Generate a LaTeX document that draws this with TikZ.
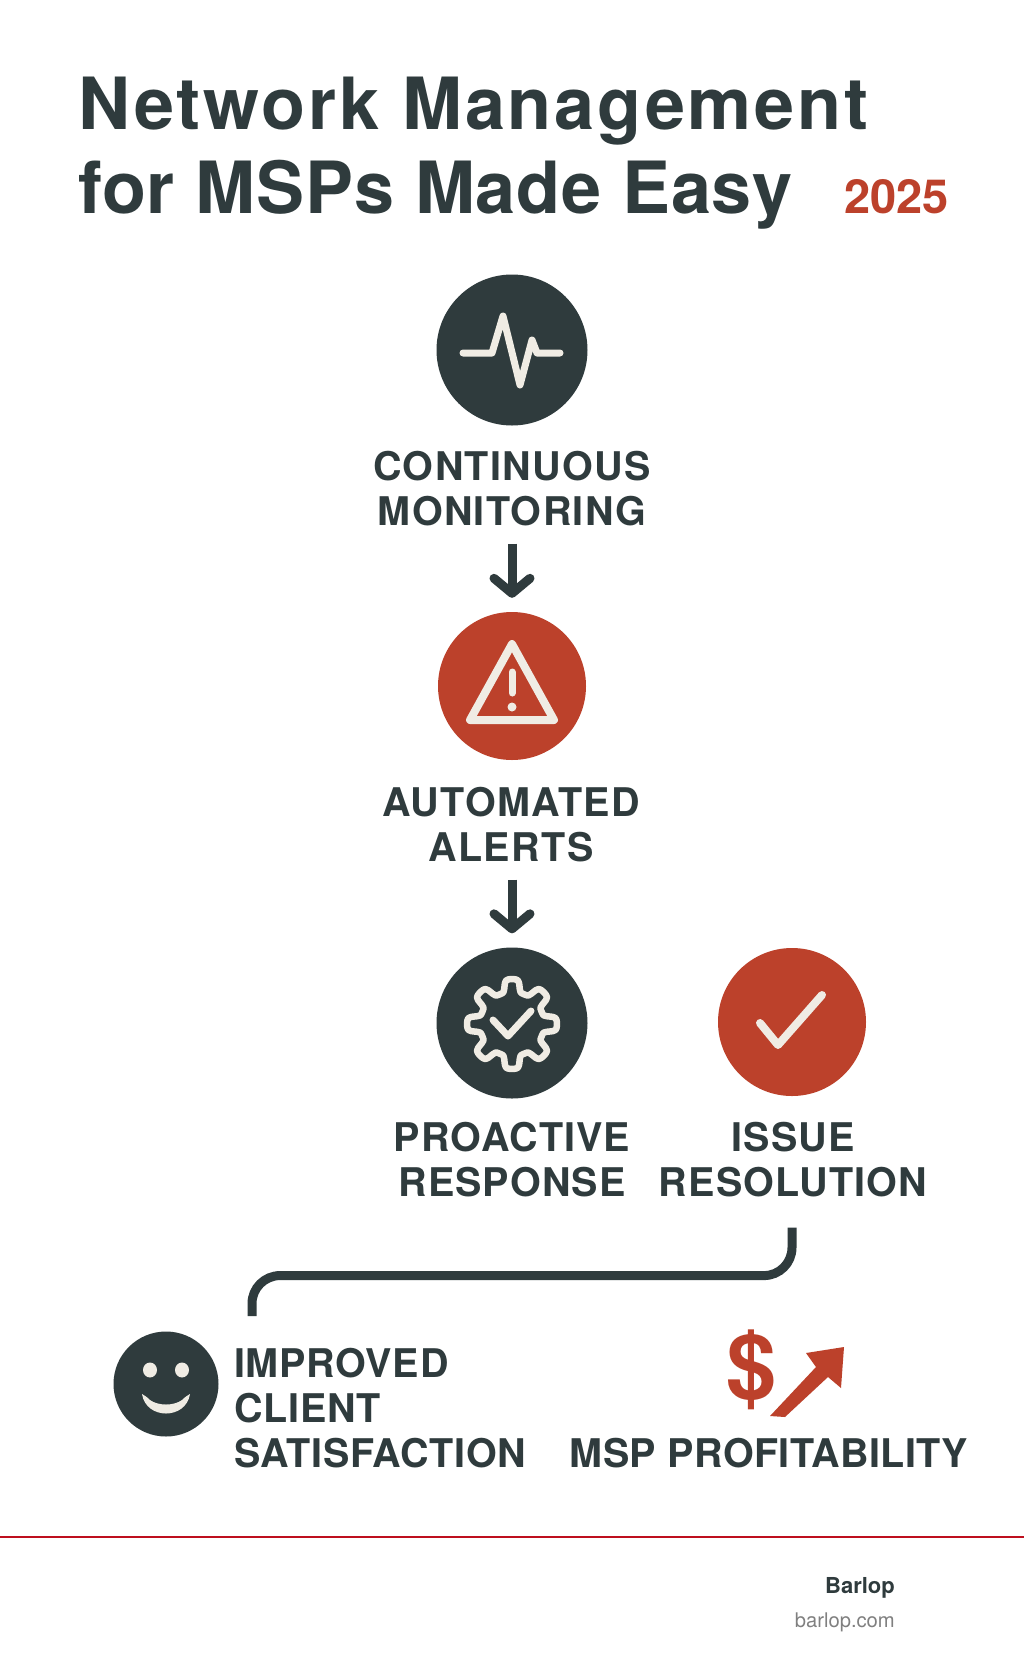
\documentclass[tikz,border=0pt]{standalone}
\usepackage{fontspec}
\usetikzlibrary{arrows.meta}
\setmainfont{TeX Gyre Heros}
\definecolor{slate}{HTML}{2F3B3D}
\definecolor{brick}{HTML}{BC412B}
\definecolor{chalk}{HTML}{F0ECE4}
\definecolor{rule}{HTML}{BE0F1E}
\tikzset{
  disc/.style={circle,fill=#1,inner sep=0pt},
  steplabel/.style={font=\fontsize{39.5}{45}\selectfont\bfseries\addfontfeature{LetterSpace=#1},text=slate,align=center,inner sep=0pt},
  sidelabel/.style={font=\fontsize{39.5}{45}\selectfont\bfseries\addfontfeature{LetterSpace=1.9},text=slate,align=left,inner sep=0pt},
  titleline/.style={font=\fontsize{72}{72}\selectfont\bfseries\addfontfeature{LetterSpace=#1},text=slate,anchor=base west,inner sep=0pt},
  glyph/.style={draw=chalk,line width=7pt,line cap=round,line join=round},
  flow/.style={draw=slate,line width=9pt,shorten >=14pt,-{Straight Barb[length=15pt,width=36pt,round]}},
}
\begin{document}
\begin{tikzpicture}[x=1pt,y=-1pt]
  \useasboundingbox (0,0) rectangle (1024,1666);
  \fill[white] (0,0) rectangle (1024,1666);
  % title
  \node[titleline=3.9] (head1) at (78,129.5) {Network Management};
  \node[titleline=1.1] (head2) at (78,213) {for MSPs Made Easy};
  \node[font=\fontsize{47}{47}\selectfont\bfseries,text=brick,anchor=base west,inner sep=0pt] (year) at (844,213) {2025};
  % circles
  \node[disc=slate,minimum size=151pt] (monitor) at (512,350) {};
  \node[disc=brick,minimum size=148pt] (alert) at (512,686) {};
  \node[disc=slate,minimum size=151pt] (respond) at (512,1023) {};
  \node[disc=brick,minimum size=148pt] (resolve) at (792,1022) {};
  \node[disc=slate,minimum size=105pt] (smile) at (166,1384) {};
  % labels
  \node[steplabel=3.4] (monitortxt) at (512,489) {CONTINUOUS\\MONITORING};
  \node[steplabel=3.4] (alerttxt) at (511,825) {AUTOMATED\\ALERTS};
  \node[steplabel=2.7] (respondtxt) at (512,1160) {PROACTIVE\\RESPONSE};
  \node[steplabel=2.9] (resolvetxt) at (793,1160) {ISSUE\\RESOLUTION};
  \node[sidelabel,anchor=north west] (smiletxt) at (234,1348) {IMPROVED\\CLIENT\\SATISFACTION};
  \node[steplabel=1.1] (profittxt) at (769,1453) {MSP PROFITABILITY};
  % connectors
  \coordinate (elbowend) at (252,1316);
  \draw[flow] (monitortxt.south) ++(0,17) coordinate (a1) (a1) -- (alert.north);
  \draw[flow] (alerttxt.south) ++(1,17) coordinate (a2) (a2) -- (respond.north);
  \draw[draw=slate,line width=9pt,rounded corners=28pt] (resolvetxt.south) ++(-1,30) -- ++(0,48) -| (elbowend);
  % icon glyphs
  \draw[glyph] (463,353) -- (492,353) -- (503,316) -- (520,385) -- (532,340) -- (537,353) -- (560,353);
  \draw[glyph,line width=8pt] (512,644) -- (554,720) -- (470,720) -- cycle;
  \draw[glyph] (512,672) -- (512,693);
  \fill[chalk] (512,707) circle (4.5pt);
  \draw[glyph,line width=6.5pt,smooth,xshift=512pt,yshift=-1024pt] plot[domain=0:360,samples=145]
    ({(38.5+6.5*tanh(2.5*cos(8*\x)))*cos(\x)},{(38.5+6.5*tanh(2.5*cos(8*\x)))*sin(\x)});
  \draw[glyph] (493,1020) -- (508,1036) -- (531,1011);
  \draw[glyph,line width=8pt] (760,1023) -- (778,1045) -- (822,995);
  \fill[chalk] (150,1370) ellipse (7pt and 7.5pt) (182,1370) ellipse (7pt and 7.5pt);
  \fill[chalk] (142,1394) .. controls (146,1420) and (186,1420) .. (190,1394)
    .. controls (185,1397) and (184,1398) .. (182,1400) .. controls (174,1406) and (158,1406) .. (150,1400)
    .. controls (148,1398) and (147,1397) .. cycle;
  % profit mark
  \node[font=\fontsize{90}{90}\selectfont\bfseries,text=brick,inner sep=0pt] (dollar) at (752,1370) {\$};
  \fill[brick] (770,1416) -- (816,1367) -- (806,1353) -- (844,1347) -- (841,1388) -- (828,1377) -- (785,1417) -- cycle;
  % footer
  \draw[rule,line width=2.6pt] (0,1537) -- (1024,1537);
  \node[font=\fontsize{22}{22}\selectfont\bfseries,text=slate,anchor=base east,inner sep=0pt] (brand) at (895,1593) {Barlop};
  \node[font=\fontsize{20.2}{20.2}\selectfont,text=gray,anchor=base east,inner sep=0pt] (site) at (895,1627) {barlop.com};
\end{tikzpicture}
\end{document}
